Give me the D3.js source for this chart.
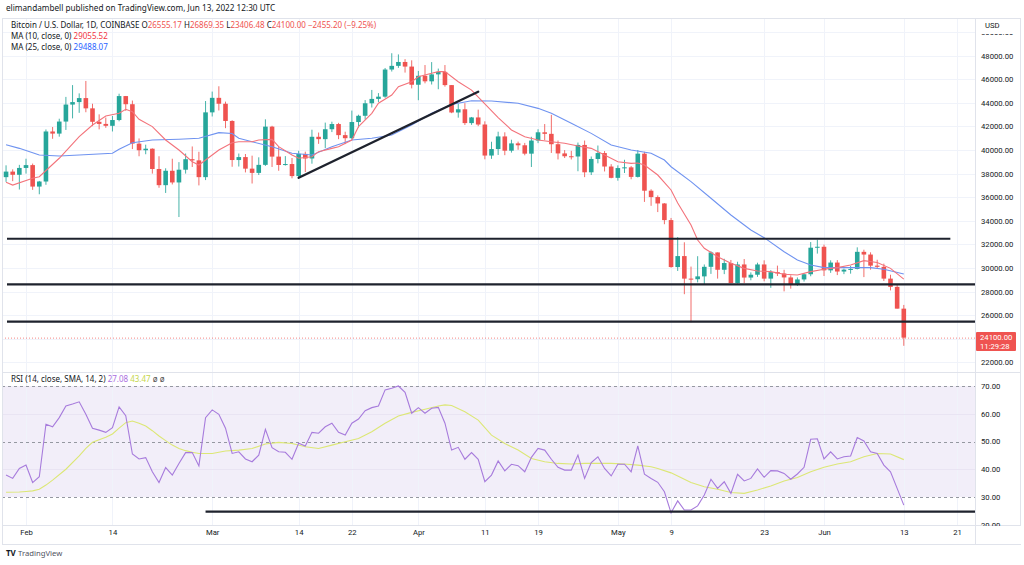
<!DOCTYPE html>
<html><head><meta charset="utf-8">
<script src="https://cdn.jsdelivr.net/npm/d3@7/dist/d3.min.js"></script>
<style>
html,body{margin:0;padding:0;background:#fff;}
svg{display:block;font-family:"Noto Sans","DejaVu Sans",sans-serif;}
</style></head><body>
<svg id="c" width="1024" height="565"></svg>
<script>
// ---------- DATA ----------
// [date, open, high, low, close]
const candles = [
["2022-01-29",37700,38700,37300,38170],["2022-01-30",38170,38360,37360,37900],["2022-01-31",37900,38740,36650,38480],
["2022-02-01",38480,39260,38000,38720],["2022-02-02",38720,38850,36620,36900],["2022-02-03",36900,37380,36250,37330],
["2022-02-04",37330,41740,37050,41570],["2022-02-05",41570,41950,40950,41390],["2022-02-06",41390,42650,41130,42410],
["2022-02-07",42410,44500,41700,43850],["2022-02-08",43850,45500,42680,44060],["2022-02-09",44060,44800,43150,44400],
["2022-02-10",44400,45850,43200,43530],["2022-02-11",43530,43920,42020,42390],["2022-02-12",42390,43020,41750,42210],
["2022-02-13",42210,42750,41880,42050],["2022-02-14",42050,42880,41570,42540],["2022-02-15",42540,44770,42430,44570],
["2022-02-16",44570,44580,43320,43880],["2022-02-17",43880,44190,40080,40540],["2022-02-18",40540,40980,39470,39980],
["2022-02-19",39980,40450,39640,40110],["2022-02-20",40110,40140,38000,38390],["2022-02-21",38390,39470,36800,37020],
["2022-02-22",37020,38450,36360,38240],["2022-02-23",38240,39260,37080,37250],["2022-02-24",37250,38970,34320,38330],
["2022-02-25",38330,39700,38000,39220],["2022-02-26",39220,40300,38560,39120],["2022-02-27",39120,39850,37000,37700],
["2022-02-28",37700,44150,37450,43190],["2022-03-01",43190,44950,42840,44420],["2022-03-02",44420,45400,43350,43920],
["2022-03-03",43920,44100,41850,42460],["2022-03-04",42460,42520,38580,39150],["2022-03-05",39150,39700,38600,39400],
["2022-03-06",39400,39660,38100,38420],["2022-03-07",38420,39520,37160,38060],["2022-03-08",38060,39380,37880,38740],
["2022-03-09",38740,42600,38650,41980],["2022-03-10",41980,42050,38560,39440],["2022-03-11",39440,40250,38240,38730],
["2022-03-12",38730,39480,38680,38810],["2022-03-13",38810,39320,37600,37790],["2022-03-14",37790,39930,37600,39670],
["2022-03-15",39670,39860,38130,39280],["2022-03-16",39280,41720,38840,41120],["2022-03-17",41120,41480,40520,40920],
["2022-03-18",40920,42320,40160,41760],["2022-03-19",41760,42400,41520,42200],["2022-03-20",42200,42300,40920,41260],
["2022-03-21",41260,41550,40500,41000],["2022-03-22",41000,43340,40880,42370],["2022-03-23",42370,42990,41900,42900],
["2022-03-24",42900,44230,42580,43960],["2022-03-25",43960,45090,43600,44330],["2022-03-26",44330,44820,44060,44520],
["2022-03-27",44520,46950,44420,46820],["2022-03-28",46820,48200,46650,47130],["2022-03-29",47130,48100,46960,47460],
["2022-03-30",47460,47700,46560,47070],["2022-03-31",47070,47600,45220,45530],["2022-04-01",45530,46700,44220,46290],
["2022-04-02",46290,47200,45650,45820],["2022-04-03",45820,47450,45550,46410],["2022-04-04",46410,46900,45150,46620],
["2022-04-05",46620,47200,45370,45500],["2022-04-06",45500,45500,43120,43180],["2022-04-07",43180,43900,42740,43450],
["2022-04-08",43450,43970,42120,42280],["2022-04-09",42280,42800,42130,42760],["2022-04-10",42760,43420,42020,42160],
["2022-04-11",42160,42430,39210,39530],["2022-04-12",39530,40700,39250,40080],["2022-04-13",40080,41550,39580,41150],
["2022-04-14",41150,41500,39560,39940],["2022-04-15",39940,40870,39780,40560],["2022-04-16",40560,40710,40020,40400],
["2022-04-17",40400,40600,39550,39690],["2022-04-18",39690,41120,38560,40800],["2022-04-19",40800,41760,40580,41500],
["2022-04-20",41500,42200,40840,41370],["2022-04-21",41370,42980,39750,40490],["2022-04-22",40490,40800,39200,39710],
["2022-04-23",39710,39990,39320,39470],["2022-04-24",39470,39930,39200,39450],["2022-04-25",39450,40630,38200,40430],
["2022-04-26",40430,40800,37700,38110],["2022-04-27",38110,39450,37880,39240],["2022-04-28",39240,40380,38870,39740],
["2022-04-29",39740,39910,38180,38600],["2022-04-30",38600,38800,37600,37640],["2022-05-01",37640,38700,37400,38470],
["2022-05-02",38470,39170,38050,38530],["2022-05-03",38530,38640,37520,37720],["2022-05-04",37720,40000,37670,39690],
["2022-05-05",39690,39850,35600,36550],["2022-05-06",36550,36670,35270,36010],["2022-05-07",36010,36150,34740,35470],
["2022-05-08",35470,35500,33710,34060],["2022-05-09",34060,34240,30030,30080],["2022-05-10",30080,32620,29750,31010],
["2022-05-11",31010,32180,27780,29100],["2022-05-12",29100,30120,25400,29050],["2022-05-13",29050,31000,28780,29290],
["2022-05-14",29290,30300,28620,30100],["2022-05-15",30100,31420,29500,31320],["2022-05-16",31320,31320,29100,29850],
["2022-05-17",29850,30780,29480,30420],["2022-05-18",30420,30680,28700,28720],["2022-05-19",28720,30530,28680,30300],
["2022-05-20",30300,30760,28720,29190],["2022-05-21",29190,29630,28960,29430],["2022-05-22",29430,30450,29250,30300],
["2022-05-23",30300,30650,28870,29100],["2022-05-24",29100,29820,28320,29650],["2022-05-25",29650,30200,29320,29540],
["2022-05-26",29540,29850,28020,29200],["2022-05-27",29200,29380,28250,28600],["2022-05-28",28600,29200,28480,29030],
["2022-05-29",29030,29550,28850,29470],["2022-05-30",29470,32200,29300,31720],["2022-05-31",31720,32400,31220,31800],
["2022-06-01",31800,31980,29320,29800],["2022-06-02",29800,30650,29590,30460],["2022-06-03",30460,30670,29400,29700],
["2022-06-04",29700,29950,29480,29860],["2022-06-05",29860,30180,29520,29920],["2022-06-06",29920,31750,29880,31370],
["2022-06-07",31370,31550,29230,31140],["2022-06-08",31140,31330,29860,30200],["2022-06-09",30200,30700,29950,30100],
["2022-06-10",30100,30370,28900,29100],["2022-06-11",29100,29430,28100,28400],["2022-06-12",28400,28560,26560,26555.17],
["2022-06-13",26555.17,26869.35,23406.48,24100.00]
];

// MA(10)
const ma10 = [
["2022-01-29",37260],["2022-01-30",37030],["2022-02-02",37600],["2022-02-03",37740],["2022-02-06",39300],["2022-02-09",41130],
["2022-02-11",42120],["2022-02-13",42880],["2022-02-15",43110],["2022-02-16",43450],["2022-02-17",43250],["2022-02-18",42600],
["2022-02-20",41980],["2022-02-22",40850],["2022-02-24",40000],["2022-02-26",39010],["2022-02-27",38730],["2022-02-28",39150],
["2022-03-02",40000],["2022-03-04",40620],["2022-03-05",40700],["2022-03-07",40700],["2022-03-08",40850],["2022-03-10",40900],
["2022-03-11",40280],["2022-03-13",39580],["2022-03-14",39300],["2022-03-16",39430],["2022-03-17",39860],["2022-03-19",40140],
["2022-03-20",40280],["2022-03-22",40850],["2022-03-23",41980],["2022-03-25",43110],["2022-03-26",43960],["2022-03-28",44660],
["2022-03-29",45360],["2022-03-31",45790],["2022-04-01",46210],["2022-04-03",46500],["2022-04-04",46640],["2022-04-05",46640],
["2022-04-07",45790],["2022-04-09",45080],["2022-04-11",43900],["2022-04-13",42750],["2022-04-15",41700],["2022-04-17",41130],
["2022-04-19",40850],["2022-04-21",40700],["2022-04-23",40570],["2022-04-25",40340],["2022-04-27",40140],["2022-04-29",39580],
["2022-05-01",39010],["2022-05-03",38870],["2022-05-04",38900],["2022-05-05",38730],["2022-05-07",37880],["2022-05-09",36610],
["2022-05-10",35500],["2022-05-12",33640],["2022-05-13",32370],["2022-05-14",31670],["2022-05-16",30960],["2022-05-18",30400],
["2022-05-20",29970],["2022-05-22",29750],["2022-05-24",29690],["2022-05-26",29470],["2022-05-28",29410],["2022-05-30",29690],
["2022-06-01",29890],["2022-06-03",30030],["2022-06-05",30250],["2022-06-07",30620],["2022-06-09",30460],["2022-06-11",29970],
["2022-06-13",29055.52]
];

// MA(25)
const ma25 = [
["2022-01-29",40450],["2022-01-31",40140],["2022-02-03",39580],["2022-02-06",39490],["2022-02-09",39580],["2022-02-14",39720],
["2022-02-15",40060],["2022-02-17",40620],["2022-02-20",40850],["2022-02-24",40910],["2022-02-27",40990],["2022-03-02",41470],
["2022-03-04",41400],["2022-03-05",40990],["2022-03-07",40700],["2022-03-10",40280],["2022-03-13",39720],["2022-03-16",39580],
["2022-03-19",40280],["2022-03-22",40850],["2022-03-25",40990],["2022-03-28",41270],["2022-03-31",42120],["2022-04-03",43110],
["2022-04-06",43850],["2022-04-09",44180],["2022-04-12",44150],["2022-04-16",43960],["2022-04-19",43530],["2022-04-21",43110],
["2022-04-24",42260],["2022-04-27",41410],["2022-04-30",40420],["2022-05-03",40000],["2022-05-06",39720],["2022-05-08",39150],
["2022-05-09",38580],["2022-05-12",37320],["2022-05-15",35910],["2022-05-18",34490],["2022-05-21",33220],["2022-05-23",32570],
["2022-05-26",31380],["2022-05-28",30680],["2022-05-30",30250],["2022-06-01",30030],["2022-06-06",30030],["2022-06-08",30030],
["2022-06-10",29890],["2022-06-13",29488.07]
];

// RSI(14), one value per candle
const rsiValues = [37.9,36.7,40.3,41.5,35.2,37.3,56.2,55.3,58.6,62.8,63.5,64.3,59.8,54.8,54.1,53.3,55.0,62.5,59.3,45.5,
43.7,44.2,39.1,35.2,40.6,37.9,42.1,46.0,46.0,41.2,58.6,61.4,59.8,54.8,45.7,46.3,43.7,42.7,45.1,54.4,
47.8,46.3,46.1,43.6,49.4,48.4,53.3,53.0,55.3,56.6,53.3,52.3,56.6,58.1,61.1,62.2,62.8,68.6,69.2,70.0,
67.7,60.2,62.2,60.2,62.0,62.3,56.6,46.9,47.9,43.6,46.0,43.6,35.5,37.9,43.0,39.4,41.8,41.3,39.1,44.3,
47.5,46.9,43.6,40.7,39.7,39.7,45.1,36.7,42.4,44.5,40.3,37.6,41.8,41.8,39.1,48.4,38.2,36.7,35.3,31.9,
24.3,28.6,25.3,25.3,26.8,30.7,36.4,33.1,35.5,31.3,38.2,35.8,36.7,40.1,37.1,39.5,39.4,38.5,36.4,38.3,
40.7,50.8,51.0,43.7,46.3,43.7,44.5,44.8,51.4,50.2,46.3,45.7,41.5,39.1,33.1,27.08];

// RSI SMA(14)
const rsiSma = [
["2022-01-29",31.7],["2022-01-31",31.8],["2022-02-01",32.0],["2022-02-02",32.2],["2022-02-03",32.8],["2022-02-04",34.3],
["2022-02-05",36.1],["2022-02-07",40.0],["2022-02-09",44.8],["2022-02-10",47.5],["2022-02-11",49.7],["2022-02-13",51.5],
["2022-02-14",52.7],["2022-02-15",54.8],["2022-02-16",56.8],["2022-02-17",57.4],["2022-02-18",56.6],["2022-02-19",55.6],
["2022-02-20",53.9],["2022-02-21",52.0],["2022-02-22",50.3],["2022-02-23",48.7],["2022-02-24",47.5],["2022-02-25",46.7],
["2022-02-26",46.1],["2022-02-27",45.7],["2022-03-01",45.7],["2022-03-03",46.6],["2022-03-05",46.9],["2022-03-07",47.5],
["2022-03-09",49.1],["2022-03-11",49.7],["2022-03-13",49.3],["2022-03-15",48.1],["2022-03-17",47.5],["2022-03-19",48.7],
["2022-03-21",49.9],["2022-03-23",51.1],["2022-03-25",53.5],["2022-03-27",56.6],["2022-03-29",59.2],["2022-03-31",60.5],
["2022-04-02",61.6],["2022-04-04",62.8],["2022-04-05",63.2],["2022-04-06",63.0],["2022-04-08",60.7],["2022-04-10",57.7],
["2022-04-12",52.3],["2022-04-14",49.3],["2022-04-16",46.9],["2022-04-18",43.9],["2022-04-20",42.7],["2022-04-22",42.1],
["2022-04-24",41.9],["2022-04-26",42.1],["2022-04-28",42.1],["2022-04-30",42.1],["2022-05-02",41.9],["2022-05-04",41.5],
["2022-05-06",40.9],["2022-05-07",40.3],["2022-05-09",38.7],["2022-05-10",37.6],["2022-05-12",35.2],["2022-05-14",33.7],
["2022-05-16",32.8],["2022-05-18",31.6],["2022-05-20",31.3],["2022-05-22",32.5],["2022-05-24",34.0],["2022-05-26",35.8],
["2022-05-28",37.0],["2022-05-30",39.1],["2022-06-01",40.7],["2022-06-03",41.9],["2022-06-05",42.7],["2022-06-07",44.5],
["2022-06-09",45.7],["2022-06-11",45.5],["2022-06-13",43.47]
];

// drawn lines: [date1, price1, date2, price2]
const trendLine = ["2022-03-14",37650,"2022-04-10",44940];
const levels = [{p:32480,end:"2022-06-20"},{p:28610,end:null},{p:25450,end:null}];
const rsiLevelLine = {v:24.7,start:"2022-02-28"};

const priceTicks = [50000,48000,46000,44000,42000,40000,38000,36000,34000,32000,30000,28000,26000,22000];
const rsiTicks = [70,60,50,40,30,20];
const timeTicks = ["2022-02-01","2022-02-14","2022-03-01","2022-03-14","2022-03-22","2022-04-01","2022-04-11","2022-04-19","2022-05-01","2022-05-09","2022-05-23","2022-06-01","2022-06-13","2022-06-21"];
const timeLabels = ["Feb","14","Mar","14","22","Apr","11","19","May","9","23","Jun","13","21"];

const lastPrice = 24100.00, lastTime = "11:29:28";

// ---------- LAYOUT ----------
const W=1024,H=565;
const L=2, R=975, mainTop=18, mainBot=372, rsiTop=373, rsiBot=525, axBot=544;
const svg = d3.select("#c");
const P = d => new Date(d+"T00:00:00Z");
const x = d3.scaleUtc().domain([P("2022-02-01"),P("2022-06-21")]).range([26,957]);
const y = d3.scaleLinear().domain([22000,48000]).range([362.4,55.6]);
const yr = d3.scaleLinear().domain([30,70]).range([497,386]);

const UP="#26A69A", DN="#EF5350", GRID="#F0F3FA", BORDER="#E0E3EB", TXT="#131722";
const AXF = "7.7px";

svg.append("rect").attr("width",W).attr("height",H).attr("fill","#fff");

// clip paths
const defs = svg.append("defs");
defs.append("clipPath").attr("id","cm").append("rect").attr("x",L).attr("y",mainTop).attr("width",R-L).attr("height",mainBot-mainTop);
defs.append("clipPath").attr("id","cr").append("rect").attr("x",L).attr("y",rsiTop).attr("width",R-L).attr("height",rsiBot-rsiTop);

const gMain = svg.append("g").attr("clip-path","url(#cm)");
const gRsi = svg.append("g").attr("clip-path","url(#cr)");

// RSI band
gRsi.append("rect").attr("x",L).attr("width",R-L).attr("y",yr(70)).attr("height",yr(30)-yr(70)).attr("fill","#7E57C2").attr("fill-opacity",0.1);

// vertical grid
timeTicks.forEach(t=>{
  const xx = Math.round(x(P(t)))+0.5;
  gMain.append("line").attr("x1",xx).attr("x2",xx).attr("y1",mainTop).attr("y2",mainBot).attr("stroke",GRID);
  gRsi.append("line").attr("x1",xx).attr("x2",xx).attr("y1",rsiTop).attr("y2",rsiBot).attr("stroke",GRID);
});
// horizontal grid main
priceTicks.concat([24000]).forEach(p=>{
  const yy=Math.round(y(p))+0.5;
  gMain.append("line").attr("x1",L).attr("x2",R).attr("y1",yy).attr("y2",yy).attr("stroke",GRID);
});
[60,40].forEach(v=>{
  const yy=Math.round(yr(v))+0.5;
  gRsi.append("line").attr("x1",L).attr("x2",R).attr("y1",yy).attr("y2",yy).attr("stroke","#E9E4F3");
});
[70,50,30].forEach(v=>{
  const yy=Math.round(yr(v))+0.5;
  gRsi.append("line").attr("x1",L).attr("x2",R).attr("y1",yy).attr("y2",yy).attr("stroke","#9598A1").attr("stroke-dasharray","3,3");
});

// candles
const bw = 4.6;
const cg = gMain.append("g");
candles.forEach(c=>{
  const [d,o,h,l,cl]=c; const cx=x(P(d)); const col = cl>=o?UP:DN;
  cg.append("line").attr("x1",cx).attr("x2",cx).attr("y1",y(h)).attr("y2",y(l)).attr("stroke",col).attr("stroke-width",1).attr("stroke-opacity",0.85);
  const yt=y(Math.max(o,cl)), yb=y(Math.min(o,cl));
  cg.append("rect").attr("x",cx-bw/2).attr("width",bw).attr("y",yt).attr("height",Math.max(1,yb-yt)).attr("fill",col);
});

// MA lines
const lineP = d3.line().x(d=>x(P(d[0]))).y(d=>y(d[1]));
gMain.append("path").attr("d",lineP(ma25)).attr("fill","none").attr("stroke","#6F93F0").attr("stroke-width",1.1);
gMain.append("path").attr("d",lineP(ma10)).attr("fill","none").attr("stroke","#F3737B").attr("stroke-width",1.1);

// horizontal levels
levels.forEach(lv=>{
  const yy=y(lv.p);
  gMain.append("line").attr("x1",7).attr("x2",lv.end?x(P(lv.end)):R).attr("y1",yy).attr("y2",yy).attr("stroke","#1E222D").attr("stroke-width",2.2);
});
// trend line
gMain.append("line").attr("x1",x(P(trendLine[0]))).attr("y1",y(trendLine[1])).attr("x2",x(P(trendLine[2]))).attr("y2",y(trendLine[3]))
  .attr("stroke","#1E222D").attr("stroke-width",2.4).attr("stroke-linecap","round");

// last price dotted line
gMain.append("line").attr("x1",L).attr("x2",R).attr("y1",y(lastPrice)+0.5).attr("y2",y(lastPrice)+0.5)
  .attr("stroke","#EF5350").attr("stroke-dasharray","1,2").attr("stroke-opacity",0.7);

// RSI lines
const rsiData = candles.map((c,i)=>[c[0],rsiValues[i]]);
const lineR = d3.line().x(d=>x(P(d[0]))).y(d=>yr(d[1]));
gRsi.append("path").attr("d",lineR(rsiSma)).attr("fill","none").attr("stroke","#DCE775").attr("stroke-width",1.1);
gRsi.append("path").attr("d",lineR(rsiData)).attr("fill","none").attr("stroke","#A77BDC").attr("stroke-width",1.1);
gRsi.append("line").attr("x1",x(P(rsiLevelLine.start))).attr("x2",R).attr("y1",yr(rsiLevelLine.v)).attr("y2",yr(rsiLevelLine.v))
  .attr("stroke","#1E222D").attr("stroke-width",2.2);

// frame
const fr = svg.append("g").attr("fill","none").attr("stroke",BORDER);
fr.append("rect").attr("x",L+0.5).attr("y",mainTop+0.5).attr("width",1020-L).attr("height",axBot-mainTop);
fr.append("line").attr("x1",R+0.5).attr("x2",R+0.5).attr("y1",mainTop).attr("y2",axBot);
fr.append("line").attr("x1",L).attr("x2",1021).attr("y1",mainBot+0.5).attr("y2",mainBot+0.5);
fr.append("line").attr("x1",L).attr("x2",1021).attr("y1",rsiBot+0.5).attr("y2",rsiBot+0.5);

// price axis
const yAxis = d3.axisRight(y).tickValues(priceTicks).tickFormat(d=>d3.format(".2f")(d)).tickSize(0).tickPadding(0);
const ga = svg.append("g").attr("transform",`translate(${R+6},0)`).call(yAxis);
ga.select(".domain").remove();
ga.selectAll("text").attr("fill",TXT).attr("font-size",AXF).attr("font-family","Roboto, sans-serif");
// USD label over the clipped top tick
svg.append("rect").attr("x",R+1).attr("y",mainTop+1).attr("width",44).attr("height",15).attr("fill","#fff");
svg.append("text").attr("x",R+10).attr("y",27.5).attr("font-size",AXF).attr("fill",TXT).attr("font-family","Roboto, sans-serif").text("USD");

// rsi axis
const rAxis = d3.axisRight(yr).tickValues(rsiTicks).tickFormat(d=>d3.format(".2f")(d)).tickSize(0).tickPadding(0);
const gr = svg.append("g").attr("transform",`translate(${R+6},0)`).call(rAxis);
gr.select(".domain").remove();
gr.selectAll("text").attr("fill",TXT).attr("font-size",AXF).attr("font-family","Roboto, sans-serif");
svg.append("rect").attr("x",R+1).attr("y",rsiBot+1).attr("width",45).attr("height",18).attr("fill","#fff");

// last price label
const ly = y(lastPrice);
svg.append("rect").attr("x",R+1).attr("y",ly-5.5).attr("width",40).attr("height",19).attr("fill","#EF5350").attr("rx",1);
svg.append("text").attr("x",R+5).attr("y",ly+2.5).attr("font-size",AXF).attr("fill","#fff").attr("font-family","Roboto, sans-serif").text(d3.format(".2f")(lastPrice));
svg.append("text").attr("x",R+5).attr("y",ly+11).attr("font-size",AXF).attr("fill","#fff").attr("font-family","Roboto, sans-serif").text(lastTime);

// time axis
const xAxis = d3.axisBottom(x).tickValues(timeTicks.map(P)).tickFormat((d,i)=>timeLabels[i]).tickSize(0).tickPadding(0);
const gx = svg.append("g").attr("transform",`translate(0,${rsiBot+5})`).call(xAxis);
gx.select(".domain").remove();
gx.selectAll("text").attr("fill",TXT).attr("font-size",AXF).attr("font-family","Roboto, sans-serif");

// header
svg.append("text").attr("x",6).attr("y",11).attr("font-size","8.2px").attr("fill",TXT).text("elimandambell published on TradingView.com, Jun 13, 2022 12:30 UTC");

// legends
const lg = svg.append("g").attr("font-size","8px");
const t1 = lg.append("text").attr("x",11).attr("y",28).attr("fill",TXT);
t1.append("tspan").text("Bitcoin / U.S. Dollar, 1D, COINBASE  O");
t1.append("tspan").attr("fill",DN).text("26555.17");
t1.append("tspan").text("  H");
t1.append("tspan").attr("fill",DN).text("26869.35");
t1.append("tspan").text("  L");
t1.append("tspan").attr("fill",DN).text("23406.48");
t1.append("tspan").text("  C");
t1.append("tspan").attr("fill",DN).text("24100.00");
t1.append("tspan").attr("fill",DN).text("  \u22122455.20 (\u22129.25%)");
const t2 = lg.append("text").attr("x",11).attr("y",39).attr("fill",TXT);
t2.append("tspan").text("MA (10, close, 0)  ");
t2.append("tspan").attr("fill","#F23645").text("29055.52");
const t3 = lg.append("text").attr("x",11).attr("y",50).attr("fill",TXT);
t3.append("tspan").text("MA (25, close, 0)  ");
t3.append("tspan").attr("fill","#2962FF").text("29488.07");
const t4 = lg.append("text").attr("x",11).attr("y",382).attr("fill",TXT);
t4.append("tspan").text("RSI (14, close, SMA, 14, 2)  ");
t4.append("tspan").attr("fill","#AB6FE0").text("27.08");
t4.append("tspan").text("  ");
t4.append("tspan").attr("fill","#C6D64A").text("43.47");
t4.append("tspan").attr("fill","#555").text("  \u00F8  \u00F8");

// footer logo
svg.append("text").attr("x",6).attr("y",556).attr("font-size","8px").attr("font-weight","bold").attr("fill",TXT).text("TV");
svg.append("text").attr("x",18).attr("y",556).attr("font-size","7.7px").attr("fill","#50535E").text("TradingView");
</script></body></html>
